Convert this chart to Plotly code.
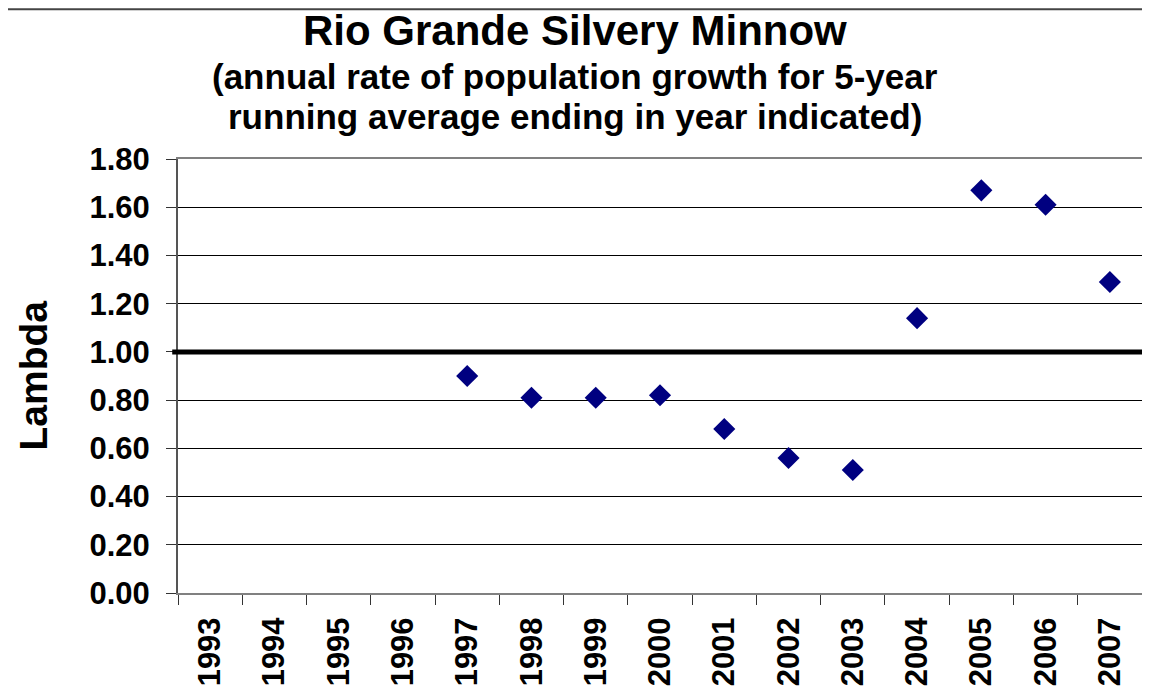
import plotly.graph_objects as go

years = [str(y) for y in range(1993, 2008)]
point_years = ["1997", "1998", "1999", "2000", "2001", "2002", "2003", "2004", "2005", "2006", "2007"]
lambda_vals = [0.90, 0.81, 0.81, 0.82, 0.68, 0.56, 0.51, 1.14, 1.67, 1.61, 1.29]
y_ticks = [0.0, 0.2, 0.4, 0.6, 0.8, 1.0, 1.2, 1.4, 1.6, 1.8]
threshold = 1.0

font = "Arial, Liberation Sans, sans-serif"

fig = go.Figure()
fig.add_trace(go.Scatter(
    x=point_years, y=lambda_vals, mode="markers",
    marker=dict(symbol="diamond", size=17, color="#000080"),
    showlegend=False,
))

# thick line at lambda = 1
fig.add_shape(type="line", xref="paper", yref="y", x0=-0.006, x1=1.005,
              y0=threshold, y1=threshold, line=dict(color="black", width=5))
# rule across the top of the page
fig.add_shape(type="line", xref="paper", yref="paper", x0=-0.2, x1=1.01,
              y0=1.345, y1=1.345, line=dict(color="#444444", width=2))

fig.add_annotation(text="<b>Rio Grande Silvery Minnow</b>", xref="paper", yref="paper",
                   x=0.412, y=1.297, xanchor="center", yanchor="middle", showarrow=False,
                   font=dict(family=font, size=42, color="black"))
fig.add_annotation(text="<b>(annual rate of population growth for 5-year</b>", xref="paper", yref="paper",
                   x=0.412, y=1.189, xanchor="center", yanchor="middle", showarrow=False,
                   font=dict(family=font, size=35, color="black"))
fig.add_annotation(text="<b>running average ending in year indicated)</b>", xref="paper", yref="paper",
                   x=0.412, y=1.097, xanchor="center", yanchor="middle", showarrow=False,
                   font=dict(family=font, size=35, color="black"))
fig.add_annotation(text="<b>Lambda</b>", xref="paper", yref="paper", textangle=-90,
                   x=-0.150, y=0.502, xanchor="center", yanchor="middle", showarrow=False,
                   font=dict(family=font, size=39, color="black"))

# page body has an 8px margin, so the figure is 8px smaller each way
fig.update_layout(
    width=1142, height=679,
    margin=dict(l=170, r=8, t=151, b=94, autoexpand=False),
    paper_bgcolor="white", plot_bgcolor="white",
    font=dict(family=font, color="black"),
)
fig.update_xaxes(
    type="category", categoryorder="array", categoryarray=years,
    range=[-0.5, len(years) - 0.5], automargin=False,
    tickson="boundaries", ticks="outside", ticklen=10, tickcolor="#333333",
    tickangle=-90, tickfont=dict(size=31, family=font, color="black"),
    tickprefix="<b>", ticksuffix="</b>", ticklabelstandoff=10,
    showgrid=False, showline=True, linecolor="#808080", linewidth=2, mirror=True,
)
fig.update_yaxes(
    range=[0, 1.8], tickvals=y_ticks, ticktext=["<b>%.2f</b>" % v for v in y_ticks],
    automargin=False,
    ticks="outside", ticklen=10, tickcolor="#333333", ticklabelstandoff=10,
    tickfont=dict(size=31, family=font, color="black"),
    showgrid=True, gridcolor="black", gridwidth=1,
    showline=True, linecolor="#555555", linewidth=2, mirror=True,
    zeroline=False,
)

fig.write_html("out.html")
